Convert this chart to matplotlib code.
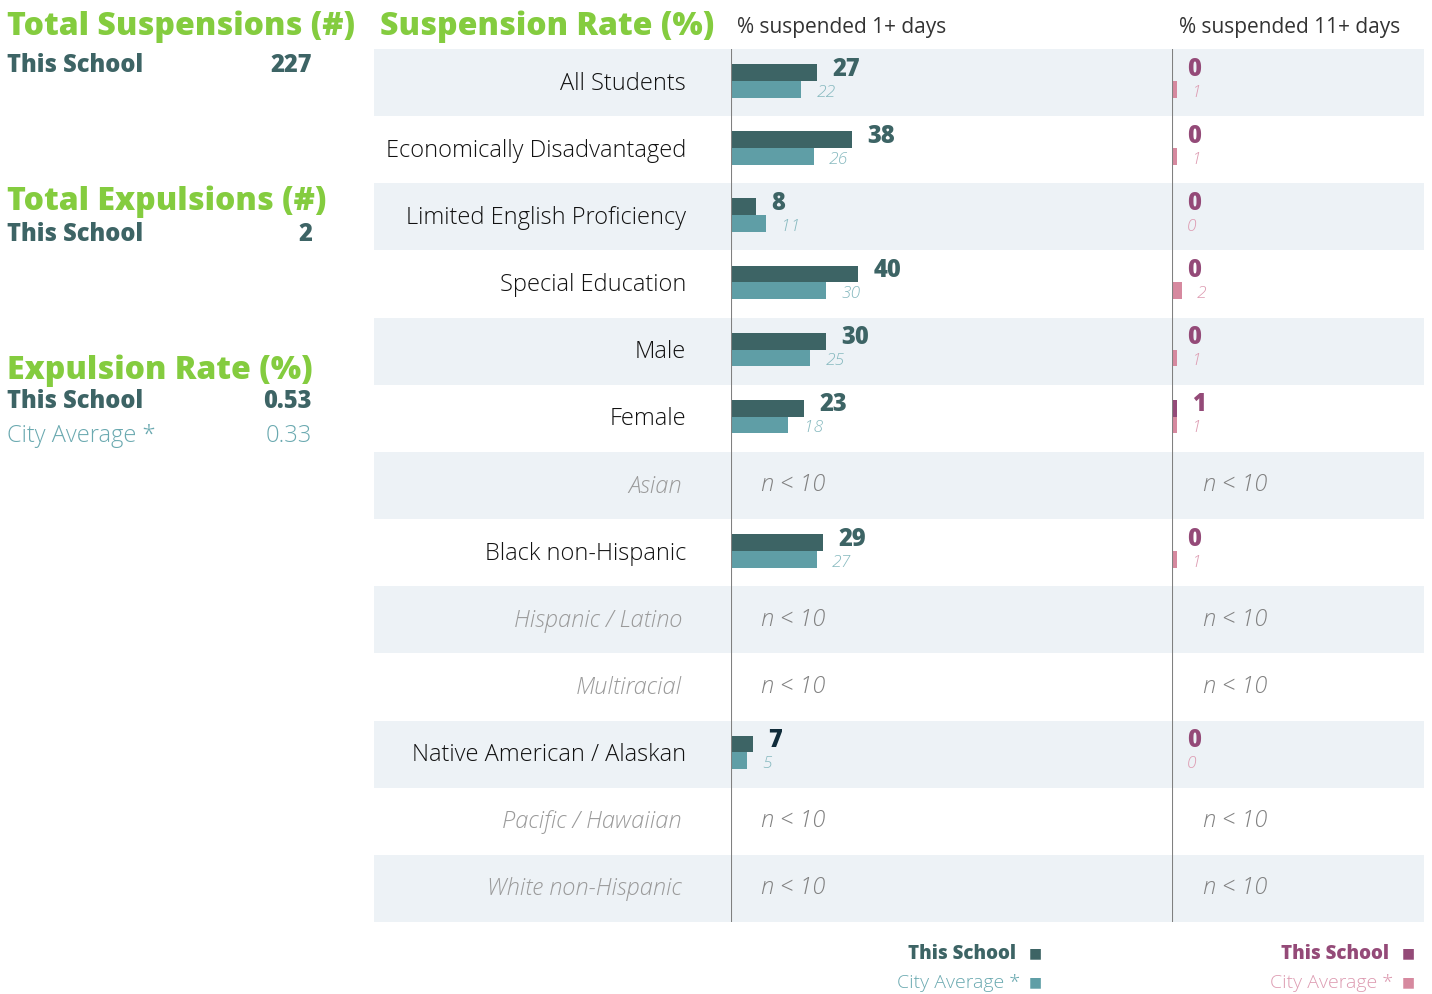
import matplotlib
matplotlib.use("Agg")
import matplotlib.pyplot as plt

groups = [
    "All Students", "Economically Disadvantaged", "Limited English Proficiency",
    "Special Education", "Male", "Female", "Asian", "Black non-Hispanic",
    "Hispanic / Latino", "Multiracial", "Native American / Alaskan",
    "Pacific / Hawaiian", "White non-Hispanic",
]
school_1 = [27, 38, 8, 40, 30, 23, None, 29, None, None, 7, None, None]
city_1 = [22, 26, 11, 30, 25, 18, None, 27, None, None, 5, None, None]
school_11 = [0, 0, 0, 0, 0, 1, None, 0, None, None, 0, None, None]
city_11 = [1, 1, 0, 2, 1, 1, None, 1, None, None, 0, None, None]

total_susp = 227
total_exp = 2
exp_rate_school = 0.53
exp_rate_city = 0.33

GREEN = "#84cc3f"
DARK = "#3d6465"
LIGHT = "#5f9ea6"
LIGHT_TXT = "#6aa9b0"
LIGHT_LBL = "#86b9bf"
PURPLE = "#944a78"
PINK = "#d6899f"
PINK_TXT = "#dd9bb1"
SHADE = "#edf2f6"
GRAY = "#808080"

FONT = ["Open Sans", "DejaVu Sans"]
plt.rcParams["font.family"] = FONT

W, H = 1432, 994


def fx(x):
    return x / W


def fy(y):
    return 1 - y / H


fig = plt.figure(figsize=(W / 100, H / 100), dpi=100)

top, bottom = 49, 922
n = len(groups)

# row shading
bg = fig.add_axes([fx(374), fy(bottom), fx(1424 - 374), (bottom - top) / H])
bg.set_xlim(0, 1)
bg.set_ylim(n, 0)
bg.axis("off")
for i in range(0, n, 2):
    bg.axhspan(i, i + 1, color=SHADE, lw=0)

left_ax = fig.add_axes([fx(731), fy(bottom), fx(1173 - 731), (bottom - top) / H])
right_ax = fig.add_axes([fx(1172), fy(bottom), fx(1424 - 1172), (bottom - top) / H])
left_ax.set_xlim(0, 139)
right_ax.set_xlim(0, 52)


def panel(ax, school, city, c_dark, c_light, c_light_txt, dark_txt, nx):
    ax.set_ylim(n, 0)
    ax.axis("off")
    ax.patch.set_alpha(0)
    for i, (s, c) in enumerate(zip(school, city)):
        if s is None:
            ax.text(nx, i + 0.5, "n < 10", ha="left", va="center",
                    fontsize=17, style="italic", color=GRAY, fontweight="light")
            continue
        ax.barh(i + 0.35, s, height=0.25, color=c_dark)
        ax.barh(i + 0.6, c, height=0.25, color=c_light)
        col = "#102c3a" if (dark_txt == DARK and s == 7) else dark_txt
        ax.annotate(str(s), (s, i + 0.3), xytext=(11, 0), textcoords="offset points",
                    ha="left", va="center", fontsize=17, fontweight="heavy", color=col)
        ax.annotate(str(c), (c, i + 0.65), xytext=(11, 0), textcoords="offset points",
                    ha="left", va="center", fontsize=12.5, style="italic",
                    fontweight="light", color=c_light_txt)
    ax.axvline(0, color=GRAY, lw=1.5)


panel(left_ax, school_1, city_1, DARK, LIGHT, LIGHT_LBL, DARK, 139 * 30 / 442)
panel(right_ax, school_11, city_11, PURPLE, PINK, PINK_TXT, PURPLE, 52 * 31 / 252)

# row labels
row_h = (bottom - top) / n
for i, g in enumerate(groups):
    yc = top + row_h * (i + 0.5)
    if school_1[i] is None:
        fig.text(fx(682), fy(yc + 1), g, ha="right", va="center", fontsize=17,
                 style="italic", color="#9a9a9a", fontweight="light")
    else:
        fig.text(fx(686), fy(yc + 1), g, ha="right", va="center", fontsize=17,
                 color="#111111", fontweight="light")

# headers
fig.text(fx(380), fy(27), "Suspension Rate (%)", ha="left", va="center",
         fontsize=23, fontweight="heavy", color=GREEN)
fig.text(fx(737), fy(27), "% suspended 1+ days", ha="left", va="center",
         fontsize=15, color="#333333")
fig.text(fx(1400), fy(27), "% suspended 11+ days", ha="right", va="center",
         fontsize=15, color="#333333")

# left summary column
fig.text(fx(7), fy(27), "Total Suspensions (#)", ha="left", va="center",
         fontsize=23, fontweight="heavy", color=GREEN)
fig.text(fx(7), fy(66), "This School", ha="left", va="center",
         fontsize=17, fontweight="heavy", color=DARK)
fig.text(fx(312), fy(66), str(total_susp), ha="right", va="center",
         fontsize=17, fontweight="heavy", color=DARK)

fig.text(fx(7), fy(202), "Total Expulsions (#)", ha="left", va="center",
         fontsize=23, fontweight="heavy", color=GREEN)
fig.text(fx(7), fy(235), "This School", ha="left", va="center",
         fontsize=17, fontweight="heavy", color=DARK)
fig.text(fx(312), fy(235), str(total_exp), ha="right", va="center",
         fontsize=17, fontweight="heavy", color=DARK)

fig.text(fx(7), fy(371), "Expulsion Rate (%)", ha="left", va="center",
         fontsize=23, fontweight="heavy", color=GREEN)
fig.text(fx(7), fy(402), "This School", ha="left", va="center",
         fontsize=17, fontweight="heavy", color=DARK)
fig.text(fx(312), fy(402), f"{exp_rate_school:.2f}", ha="right", va="center",
         fontsize=17, fontweight="heavy", color=DARK)
fig.text(fx(7), fy(436), "City Average *", ha="left", va="center",
         fontsize=17, fontweight="light", color=LIGHT_TXT)
fig.text(fx(312), fy(436), f"{exp_rate_city:.2f}", ha="right", va="center",
         fontsize=17, fontweight="light", color=LIGHT_TXT)

# legends
for xr, c_dark, c_light, c_ltxt in [(1042, DARK, LIGHT, LIGHT_TXT),
                                    (1415, PURPLE, PINK, PINK_TXT)]:
    fig.text(fx(xr - 26), fy(954), "This School", ha="right", va="center",
             fontsize=13.5, fontweight="heavy", color=c_dark)
    fig.text(fx(xr), fy(953), "■", ha="right", va="center",
             fontsize=10, color=c_dark, family="DejaVu Sans")
    fig.text(fx(xr - 22), fy(983), "City Average *", ha="right", va="center",
             fontsize=14, fontweight="light", color=c_ltxt)
    fig.text(fx(xr), fy(982), "■", ha="right", va="center",
             fontsize=10, color=c_light, family="DejaVu Sans")

fig.savefig("out.png", dpi=100)
